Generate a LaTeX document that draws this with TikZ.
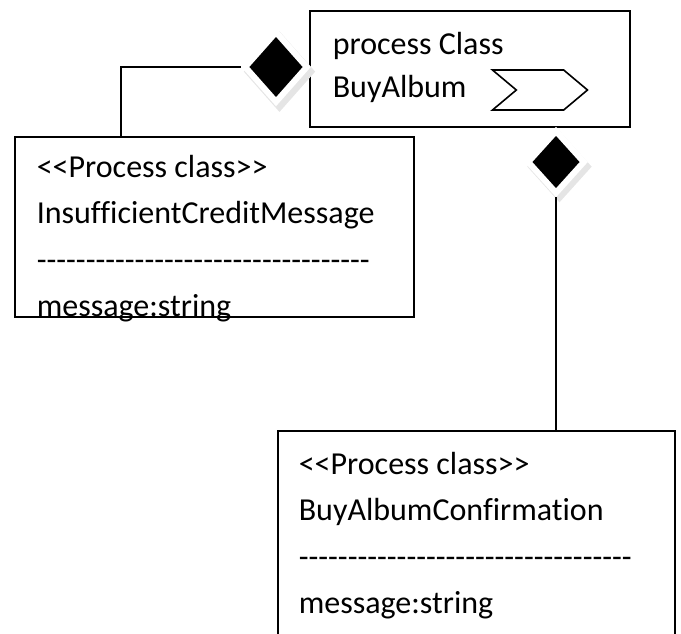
\documentclass[tikz,border=0pt]{standalone}
\usepackage{fontspec}
\setmainfont{Carlito}[Ligatures={TeXOff,NoCommon}]
\usetikzlibrary{positioning, shapes.geometric, shapes.symbols, shadows}

\begin{document}
\begin{tikzpicture}[x=1pt, y=-1pt, line width=1.6pt,
  classbox/.style={draw, rectangle, anchor=north west, inner sep=0pt},
  classtext/.style={anchor=north west, inner sep=0pt, align=left,
    font=\fontsize{32}{46.5}\selectfont},
  aggr/.style={diamond, inner sep=0pt, fill=black, draw=white, line width=6pt,
    drop shadow={shadow scale=1.16, shadow xshift=3pt, shadow yshift=-4pt,
      fill=gray!20, opacity=1}}]

  \useasboundingbox (0,0) rectangle (681,633);
  \clip (0,0) rectangle (681,633);

  % the process class and its two parts
  \node[classbox, minimum width=320, minimum height=116] (buy) at (309,10) {};
  \node[classbox, minimum width=399, minimum height=180] (credit) at (14,136) {};
  \node[classbox, minimum width=397, minimum height=230] (confirm) at (277,430) {};

  \node[classtext, font=\fontsize{32}{43.5}\selectfont] (buytext) at (332,31) {process Class\\BuyAlbum};
  \node[draw, signal, signal to=east, signal from=west, signal pointer angle=80,
    minimum width=95, minimum height=40, inner sep=0pt] (chev) at (540,90) {};

  \node[classtext] (credittext) at (36,154)
    {<<Process class>>\\InsufficientCreditMessage\\----------------------------------\\message:string};
  \node[classtext] (confirmtext) at (298,451)
    {<<Process class>>\\BuyAlbumConfirmation\\----------------------------------\\message:string};

  % aggregation diamonds
  \node[aggr, minimum width=64, minimum height=72] (ldia) at (276,67) {};
  \node[aggr, minimum width=58, minimum height=64] (rdia) at (556,162) {};

  \draw ([xshift=107pt]credit.north west) |- (ldia.west);
  \draw (rdia.south) -- (rdia.south |- confirm.north);
\end{tikzpicture}
\end{document}
